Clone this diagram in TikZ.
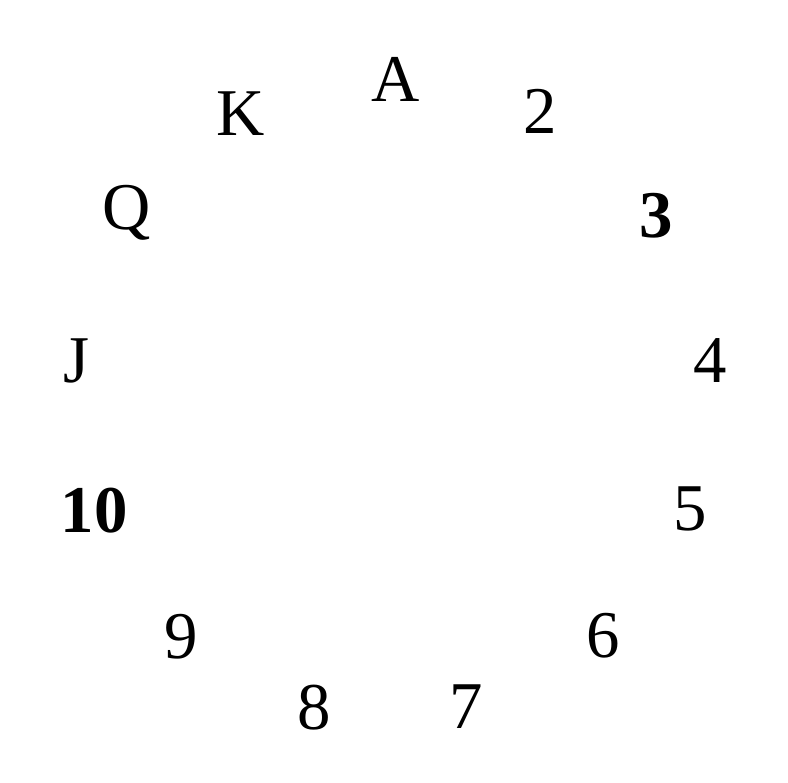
\documentclass[tikz,border=0pt]{standalone}
\usepackage{fontspec}
\setmainfont{Liberation Serif}
\usetikzlibrary{positioning}
\tikzset{
  font=\fontsize{19}{22}\selectfont,
  rank/.style ={inner sep=0pt, anchor=center},
  hot/.style  ={rank, font=\fontsize{19}{22}\selectfont\bfseries},
}
\begin{document}
\begin{tikzpicture}[x=0.01cm, y=-0.01cm]
  \useasboundingbox (0,0) rectangle (788,783);
  \node[rank] (ace)   at (396,79)  {A};
  \node[rank] (two)   at (540,111) {2};
  \node[hot]  (three) at (656,216) {3};
  \node[rank] (four)  at (710,361) {4};
  \node[rank] (five)  at (690,509) {5};
  \node[rank] (six)   at (603,636) {6};
  \node[rank] (seven) at (466,707) {7};
  \node[rank] (eight) at (314,708) {8};
  \node[rank] (nine)  at (181,637) {9};
  \node[hot]  (ten)   at (94,511)  {10};
  \node[rank] (jack)  at (76,361)  {J};
  \node[rank] (queen) at (127,213) {Q};
  \node[rank] (king)  at (241,114) {K};
\end{tikzpicture}
\end{document}
